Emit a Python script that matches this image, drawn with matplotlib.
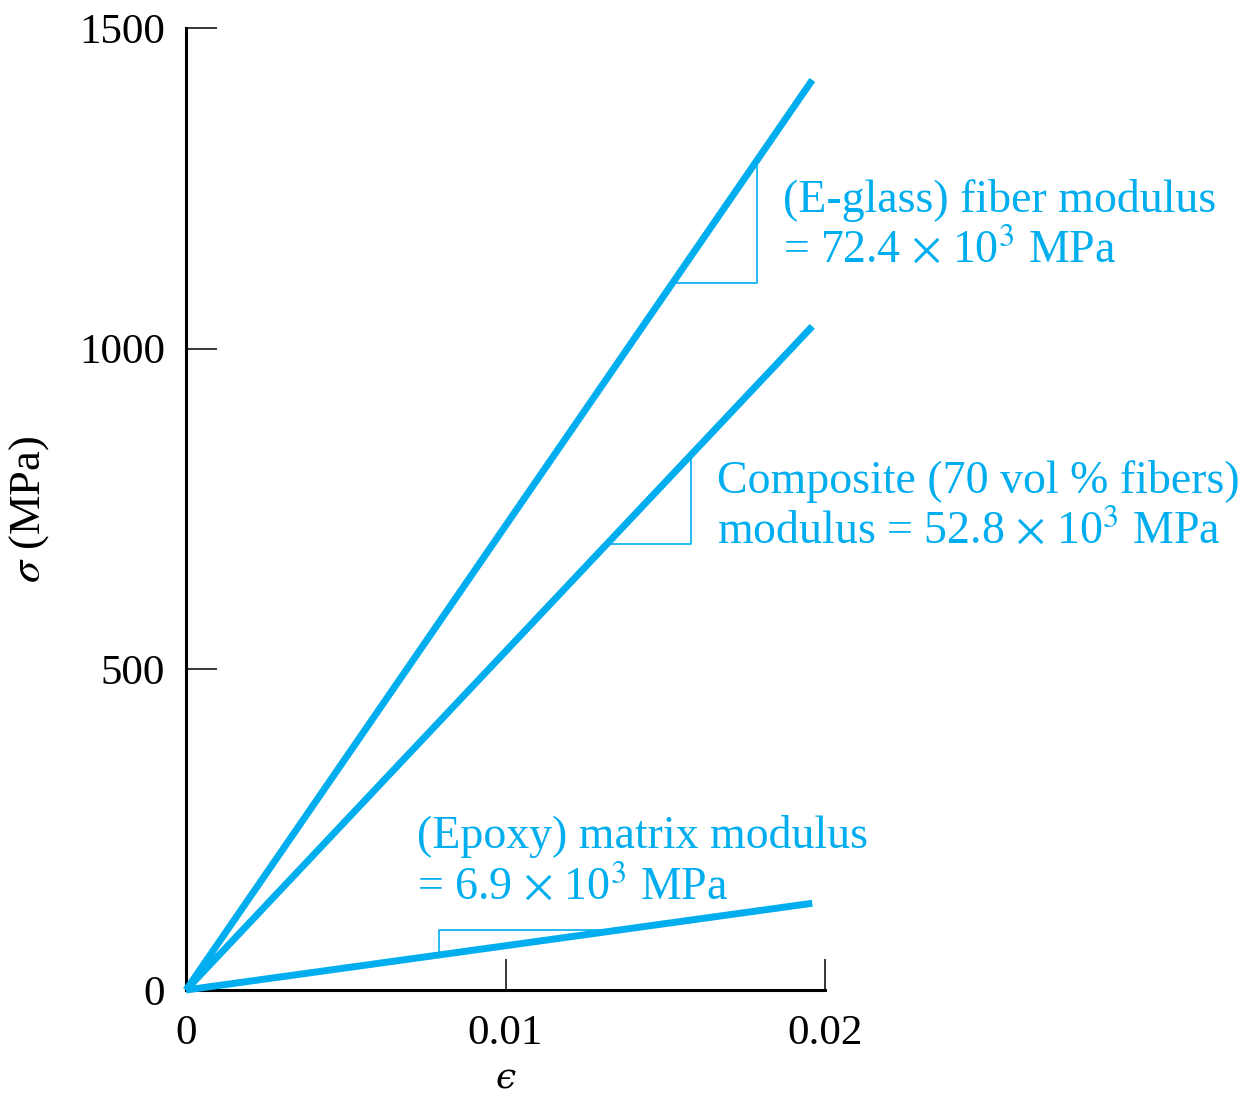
import numpy as np
import matplotlib.pyplot as plt

# stress-strain lines, moduli in MPa
names = ['fiber', 'composite', 'matrix']
moduli = [72.4e3, 52.8e3, 6.9e3]
strain_end = 0.0196
# slope triangles: (strain 1, strain 2) for each line
tri_strains = [(0.01522, 0.01787), (0.01317, 0.0158), (0.00792, 0.01357)]
labels = [
    '(E-glass) fiber modulus\n= 72.4 $\\times$ 10$^3$ MPa',
    'Composite (70 vol % fibers)\nmodulus = 52.8 $\\times$ 10$^3$ MPa',
    '(Epoxy) matrix modulus\n= 6.9 $\\times$ 10$^3$ MPa',
]
label_pos = [(0.01869, 1192), (0.01662, 754), (0.00723, 200)]
xticks = [0, 0.01, 0.02]
xtick_labels = ['0', '0.01', '0.02']
yticks = [0, 500, 1000, 1500]

if __name__ == '__main__':
    plt.rcParams['font.family'] = 'Liberation Serif'
    plt.rcParams['mathtext.fontset'] = 'stix'
    plt.rcParams['font.size'] = 31
    color = '#00aeef'

    fig = plt.figure(figsize=(12.52, 10.95), dpi=100)
    ax = fig.add_axes([0.1486, 0.0959, 0.5104, 0.8785])

    eps = np.array([0, strain_end])
    for i in range(len(names)):
        E = moduli[i]
        ax.plot(eps, E * eps, color=color, lw=5, solid_capstyle='butt', clip_on=False, zorder=3)
        e1, e2 = tri_strains[i]
        if names[i] == 'matrix':
            # triangle drawn above the line
            ax.plot([e1, e1, e2], [E * e1, E * e2, E * e2], color=color, lw=1.2, zorder=2)
        else:
            ax.plot([e1, e2, e2], [E * e1, E * e1, E * e2], color=color, lw=1.2, zorder=2)
        ax.text(label_pos[i][0], label_pos[i][1], labels[i], color=color, fontsize=33,
                va='center', ha='left', linespacing=1.22)

    ax.set_xlim(0, 0.02)
    ax.set_ylim(0, 1500)
    ax.set_xticks(xticks, xtick_labels)
    ax.set_yticks(yticks)
    ax.spines['top'].set_visible(False)
    ax.spines['right'].set_visible(False)
    ax.spines['left'].set_linewidth(2.2)
    ax.spines['bottom'].set_linewidth(2.2)
    ax.tick_params(axis='both', direction='in', length=22, width=1.1, labelsize=31)
    ax.tick_params(axis='y', pad=15)
    ax.tick_params(axis='x', pad=18)
    ax.set_xlabel('\u03f5', fontsize=26, labelpad=6, style='italic',
                  family=['DejaVu Serif', 'Liberation Serif'])
    ax.set_ylabel('$\\sigma$ (MPa)', fontsize=32, labelpad=20)

    plt.savefig('out.png', dpi=100)
    plt.close()
